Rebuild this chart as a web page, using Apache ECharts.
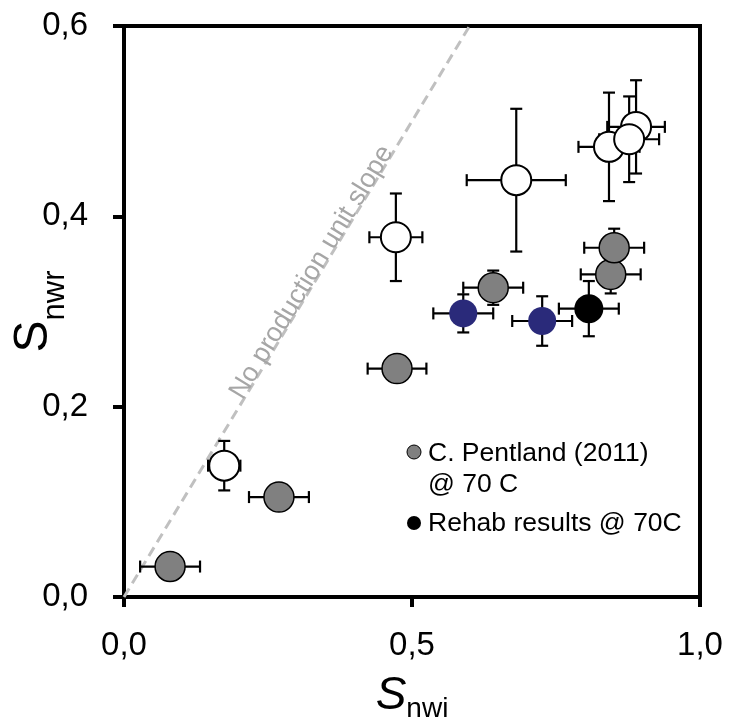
<!DOCTYPE html>
<html>
<head>
<meta charset="utf-8">
<script src="https://cdn.jsdelivr.net/npm/echarts@6.0.0/dist/echarts.min.js"></script>
<style>
  html, body { margin: 0; padding: 0; background: #fff; }
  #container { width: 729px; height: 725px; }
</style>
</head>
<body>
<div id="container"></div>
<script>
// each point: [Snwi, Snwr, error in Snwi, error in Snwr]
const pentland = [
  [0.080, 0.032, 0.052, 0.010],
  [0.269, 0.105, 0.052, 0.010],
  [0.474, 0.240, 0.051, 0.010],
  [0.641, 0.325, 0.052, 0.018],
  [0.845, 0.339, 0.052, 0.020],
  [0.851, 0.367, 0.052, 0.020]
];
const openPoints = [
  [0.174, 0.138, 0.028, 0.026],
  [0.472, 0.378, 0.046, 0.046],
  [0.681, 0.438, 0.086, 0.075],
  [0.842, 0.473, 0.053, 0.057],
  [0.889, 0.494, 0.050, 0.049],
  [0.877, 0.481, 0.052, 0.045]
];
const bluePoints = [
  [0.589, 0.298, 0.052, 0.020],
  [0.726, 0.290, 0.052, 0.026]
];
const rehab = [
  [0.807, 0.303, 0.052, 0.029]
];
const unitSlope = [[0, 0], [0.6, 0.6]];

const xTicks = [0, 0.5, 1.0];
const yTicks = [0, 0.2, 0.4, 0.6];

const FONT = '"Liberation Sans", Arial, Helvetica, sans-serif';

let dom = document.getElementById('container');
let myChart = echarts.init(dom);

// error bars drawn as a custom series, caps 12px wide
function renderErrorBar(params, api) {
  const x = api.value(0), y = api.value(1);
  const ex = api.value(2), ey = api.value(3);
  const l = api.coord([x - ex, y]);
  const r = api.coord([x + ex, y]);
  const t = api.coord([x, y + ey]);
  const b = api.coord([x, y - ey]);
  const cap = 6;
  const style = { stroke: '#000', lineWidth: 2.2 };
  const seg = (x1, y1, x2, y2) => ({ type: 'line', shape: { x1, y1, x2, y2 }, style });
  return {
    type: 'group',
    children: [
      seg(l[0], l[1], r[0], r[1]),
      seg(l[0], l[1] - cap, l[0], l[1] + cap),
      seg(r[0], r[1] - cap, r[0], r[1] + cap),
      seg(t[0], t[1], b[0], b[1]),
      seg(t[0] - cap, t[1], t[0] + cap, t[1]),
      seg(b[0] - cap, b[1], b[0] + cap, b[1])
    ]
  };
}

const commaFmt = v => v.toFixed(1).replace('.', ',');

let option = {
  animation: false,
  grid: {
    left: 124, right: 29, top: 26, bottom: 128,
    containLabel: false, outerBoundsMode: 'none',
    show: true, borderColor: '#000', borderWidth: 4
  },
  xAxis: {
    type: 'value', min: 0, max: 1, interval: 0.5,
    axisLine: { show: true, lineStyle: { color: '#000', width: 4 } },
    axisTick: { show: true, length: 10, lineStyle: { color: '#000', width: 4 } },
    splitLine: { show: false },
    axisLabel: {
      color: '#000', fontSize: 33, fontFamily: FONT, margin: 32,
      formatter: v => xTicks.includes(v) ? commaFmt(v) : ''
    },
    name: '{s|S}{sub|nwi}',
    nameLocation: 'middle',
    nameGap: 76,
    nameMoveOverlap: false,
    nameTextStyle: {
      rich: {
        s: { fontSize: 46, fontStyle: 'italic', fontFamily: FONT, color: '#000', lineHeight: 50, verticalAlign: 'top' },
        sub: { fontSize: 28, fontFamily: FONT, color: '#000', verticalAlign: 'bottom', padding: [21, 0, 0, 0] }
      }
    }
  },
  yAxis: {
    type: 'value', min: 0, max: 0.6, interval: 0.2,
    axisLine: { show: true, lineStyle: { color: '#000', width: 4 } },
    axisTick: { show: true, length: 11, lineStyle: { color: '#000', width: 4 } },
    splitLine: { show: false },
    axisLabel: {
      color: '#000', fontSize: 33, fontFamily: FONT, margin: 36,
      formatter: v => yTicks.some(t => Math.abs(t - v) < 1e-9) ? commaFmt(v) : ''
    },
    name: '{s|S}{sub|nwr}',
    nameLocation: 'middle',
    nameRotate: 90,
    nameGap: 53,
    nameMoveOverlap: false,
    nameTextStyle: {
      rich: {
        s: { fontSize: 48, fontFamily: FONT, color: '#000', lineHeight: 50, verticalAlign: 'top' },
        sub: { fontSize: 31, fontFamily: FONT, color: '#000', verticalAlign: 'bottom', padding: [30, 0, 0, 0] }
      }
    }
  },
  series: [
    {
      name: 'unit slope',
      type: 'line',
      data: unitSlope,
      showSymbol: false,
      silent: true,
      z: 1,
      lineStyle: { color: '#c0c0c0', width: 3, type: [10, 6] }
    },
    {
      name: 'error bars',
      type: 'custom',
      renderItem: renderErrorBar,
      data: [].concat(openPoints, pentland, bluePoints, rehab),
      encode: { x: 0, y: 1 },
      z: 2
    },
    {
      name: 'C. Pentland (2011) @ 70 C',
      type: 'scatter',
      data: pentland,
      symbolSize: 30,
      z: 3,
      itemStyle: { color: '#808080', borderColor: '#000', borderWidth: 1.5, opacity: 1 }
    },
    {
      name: 'open',
      type: 'scatter',
      data: openPoints,
      symbolSize: 30,
      z: 3,
      itemStyle: { color: '#fff', borderColor: '#000', borderWidth: 2, opacity: 1 }
    },
    {
      name: 'blue',
      type: 'scatter',
      data: bluePoints,
      symbolSize: 28,
      z: 3,
      itemStyle: { color: '#2a2a7a', opacity: 1 }
    },
    {
      name: 'Rehab results @ 70C',
      type: 'scatter',
      data: rehab,
      symbolSize: 29,
      z: 3,
      itemStyle: { color: '#000', opacity: 1 }
    }
  ]
};

myChart.setOption(option);

// label along the unit slope + legend
const p0 = myChart.convertToPixel({ gridIndex: 0 }, unitSlope[0]);
const p1 = myChart.convertToPixel({ gridIndex: 0 }, unitSlope[1]);
const pm = myChart.convertToPixel({ gridIndex: 0 }, [0.337, 0.337]);
const angle = Math.atan2(p0[1] - p1[1], p1[0] - p0[0]);

myChart.setOption({
  graphic: {
    elements: [
      {
        type: 'text', x: pm[0], y: pm[1], rotation: angle, z: 5,
        style: {
          text: 'No production unit slope', fill: '#a6a6a6', x: 0, y: 6,
          font: '27px ' + FONT, align: 'center', verticalAlign: 'bottom'
        }
      },
      {
        type: 'circle', shape: { cx: 414, cy: 452, r: 7 }, z: 5,
        style: { fill: '#808080', stroke: '#000', lineWidth: 1 }
      },
      {
        type: 'text', x: 428, y: 438, z: 5,
        style: {
          text: 'C. Pentland (2011)\n@ 70 C', fill: '#000',
          font: '26.5px ' + FONT, lineHeight: 31, verticalAlign: 'top'
        }
      },
      {
        type: 'circle', shape: { cx: 414, cy: 523, r: 7 }, z: 5,
        style: { fill: '#000' }
      },
      {
        type: 'text', x: 428, y: 524, z: 5,
        style: {
          text: 'Rehab results @ 70C', fill: '#000',
          font: '26.5px ' + FONT, verticalAlign: 'middle'
        }
      }
    ]
  }
});
</script>
</body>
</html>
